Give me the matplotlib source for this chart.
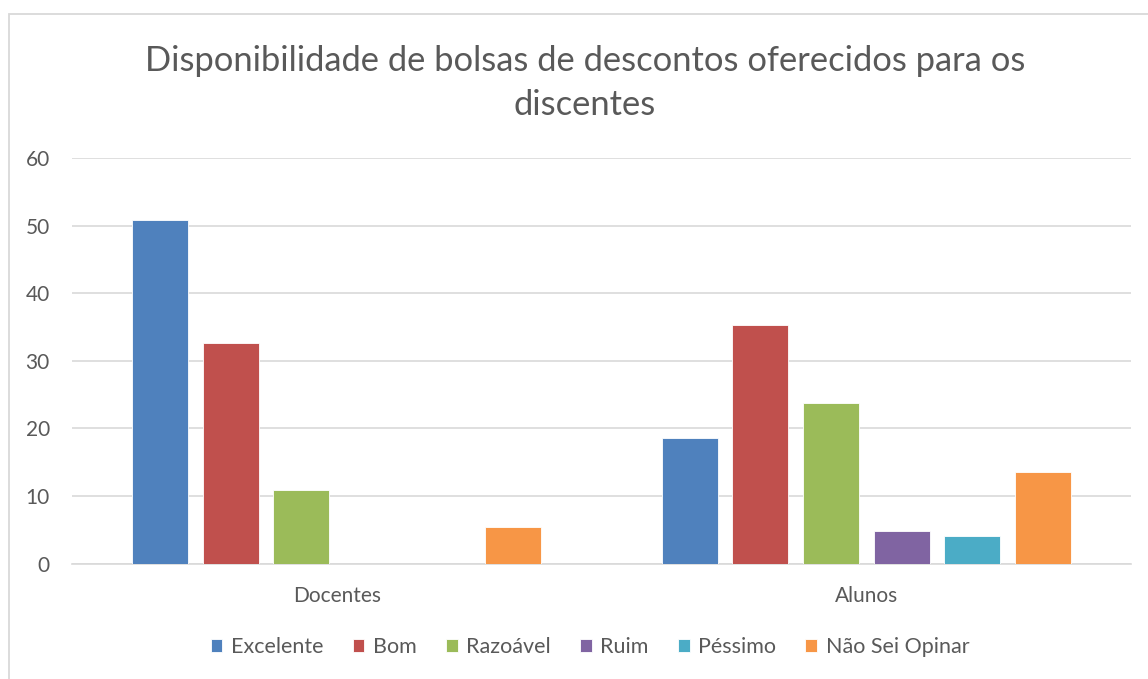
import matplotlib
matplotlib.use("Agg")
import matplotlib.pyplot as plt
from matplotlib.patches import Rectangle
import numpy as np

plt.rcParams['font.family'] = ['Lato', 'DejaVu Sans']

categories = ["Docentes", "Alunos"]
series = ["Excelente", "Bom", "Razoável", "Ruim", "Péssimo", "Não Sei Opinar"]
values = {
    "Excelente": [50.9, 18.6],
    "Bom": [32.7, 35.3],
    "Razoável": [10.9, 23.7],
    "Ruim": [0, 4.8],
    "Péssimo": [0, 4.05],
    "Não Sei Opinar": [5.45, 13.5],
}
colors = ["#4F81BD", "#C0504D", "#9BBB59", "#8064A2", "#4BACC6", "#F79646"]
title = "Disponibilidade de bolsas de descontos oferecidos para os\ndiscentes"

W, H = 1148, 679
fig = plt.figure(figsize=(W / 100, H / 100), dpi=100)
fig.patch.set_facecolor("white")

# chart border (cropped on right/bottom)
fig.patches.append(Rectangle((9 / W, -0.1), 1.2, (H - 14) / H + 0.1,
                             transform=fig.transFigure, fill=False,
                             edgecolor="#D9D9D9", linewidth=1.3))

left, right, top, bottom = 72, 1131, 158, 563.5
ax = fig.add_axes([left / W, 1 - bottom / H, (right - left) / W, (bottom - top) / H])

x = np.arange(len(categories))
pitch = 0.1332
width = 0.1058
n = len(series)
for i, (s, c) in enumerate(zip(series, colors)):
    off = (i - (n - 1) / 2) * pitch
    ax.bar(x + off, values[s], width=width, color=c, label=s,
           edgecolor="white", linewidth=0.6, zorder=3)

ax.set_xlim(-0.5, 1.5)
ax.set_ylim(0, 60)
ax.set_yticks(range(0, 61, 10))
ax.yaxis.grid(True, color="#D9D9D9", linewidth=1.2, zorder=0)
ax.set_axisbelow(True)
for sp in ["top", "right", "left"]:
    ax.spines[sp].set_visible(False)
ax.spines["bottom"].set_color("#D9D9D9")
ax.spines["bottom"].set_linewidth(1.2)
ax.tick_params(axis="both", length=0, colors="#595959", labelsize=15)
ax.tick_params(axis="y", pad=16)
ax.tick_params(axis="x", pad=16)
ax.set_xticks(x)
ax.set_xticklabels(categories)

fig.text(585 / W, 1 - 83 / H, title, ha="center", va="center",
         fontsize=24.8, color="#595959", linespacing=1.45)

handles, labels = ax.get_legend_handles_labels()
leg = fig.legend(handles, labels, loc="center", bbox_to_anchor=(590 / W, 1 - 647 / H),
                 ncol=6, frameon=False, fontsize=15.5, handlelength=0.55,
                 handleheight=0.55, handletextpad=0.4, columnspacing=1.35)
for t in leg.get_texts():
    t.set_color("#595959")

fig.savefig("out.png", dpi=100, facecolor="white")
